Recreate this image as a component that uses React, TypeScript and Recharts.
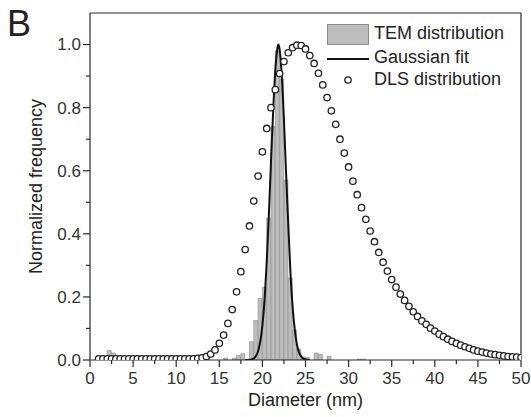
import React from "react";
import { ComposedChart, Bar, Line, Scatter, XAxis, YAxis, ReferenceLine } from "recharts";

const fontFamily = "'Liberation Sans', Arial, sans-serif";
const ink = "#2a2a2a";

// axis ticks (minor ones carry no label)
const xTicks = [0, 2.5, 5, 7.5, 10, 12.5, 15, 17.5, 20, 22.5, 25, 27.5, 30, 32.5, 35, 37.5, 40, 42.5, 45, 47.5, 50];
const xMajor = [0, 5, 10, 15, 20, 25, 30, 35, 40, 45, 50];
const yTicks = [0, 0.1, 0.2, 0.3, 0.4, 0.5, 0.6, 0.7, 0.8, 0.9, 1.0];
const yMajor = [0, 0.2, 0.4, 0.6, 0.8, 1.0];

// TEM histogram (bin centre, normalized count)
const temBins = [2.25, 2.75, 15.75, 16.75, 17.25, 17.75, 18.75, 19.25, 19.75, 20.25, 20.75, 21.25, 21.75, 22.25, 22.75, 23.25, 23.75, 24.25, 24.75, 25.25, 26.25, 26.75, 27.75, 31.25, 31.75];
const temFreq = [0.03, 0.022, 0.006, 0.006, 0.014, 0.02, 0.058, 0.125, 0.195, 0.23, 0.45, 0.74, 0.98, 0.89, 0.57, 0.26, 0.095, 0.035, 0.01, 0.008, 0.022, 0.018, 0.012, 0.003, 0.003];

// Gaussian fit curve
const fitDiameter = [18.0, 18.5, 18.75, 19.0, 19.25, 19.5, 19.75, 20.0, 20.25, 20.5, 20.75, 21.0, 21.25, 21.5, 21.75, 21.85, 22.0, 22.25, 22.5, 22.75, 23.0, 23.25, 23.5, 23.75, 24.0, 24.25, 24.5, 24.75, 25.0, 25.5];
const fitValue = [0, 0.001, 0.002, 0.005, 0.013, 0.028, 0.058, 0.11, 0.19, 0.31, 0.46, 0.63, 0.79, 0.92, 0.99, 1.0, 0.985, 0.9, 0.76, 0.59, 0.43, 0.28, 0.17, 0.097, 0.05, 0.024, 0.011, 0.004, 0.002, 0];

// DLS distribution
const dlsDiameter = [
  1, 1.5, 2, 2.5, 3, 3.5, 4, 4.5, 5, 5.5, 6, 6.5, 7, 7.5, 8, 8.5, 9, 9.5, 10, 10.5, 11, 11.5, 12, 12.5,
  13, 13.5, 14, 14.5, 15, 15.5, 16, 16.5, 17, 17.5, 18, 18.5, 19, 19.5, 20, 20.5, 21, 21.5, 22, 22.5,
  23, 23.5, 24, 24.5, 25, 25.5, 26, 26.5, 27, 27.5, 28, 28.5, 29, 29.5, 30, 30.5, 31, 31.5, 32, 32.5,
  33, 33.5, 34, 34.5, 35, 35.5, 36, 36.5, 37, 37.5, 38, 38.5, 39, 39.5, 40, 40.5, 41, 41.5, 42, 42.5,
  43, 43.5, 44, 44.5, 45, 45.5, 46, 46.5, 47, 47.5, 48, 48.5, 49, 49.5, 50,
];
const dlsValue = [
  0.004, 0.004, 0.004, 0.004, 0.004, 0.004, 0.004, 0.004, 0.004, 0.004, 0.004, 0.004, 0.004, 0.004, 0.004, 0.004, 0.004, 0.004, 0.004, 0.004, 0.004, 0.004, 0.004, 0.005,
  0.007, 0.011, 0.019, 0.032, 0.053, 0.079, 0.116, 0.16, 0.216, 0.28, 0.35, 0.425, 0.504, 0.583, 0.66, 0.734, 0.8, 0.857, 0.908, 0.946,
  0.974, 0.99, 0.998, 0.997, 0.986, 0.965, 0.94, 0.909, 0.872, 0.832, 0.79, 0.747, 0.7, 0.656, 0.612, 0.567, 0.524, 0.483, 0.446, 0.409,
  0.375, 0.341, 0.31, 0.282, 0.255, 0.231, 0.209, 0.189, 0.17, 0.153, 0.138, 0.124, 0.113, 0.101, 0.092, 0.082, 0.074, 0.066, 0.059, 0.053,
  0.047, 0.042, 0.037, 0.032, 0.028, 0.025, 0.022, 0.019, 0.017, 0.015, 0.013, 0.011, 0.01, 0.009, 0.008,
];

const temData = temBins.map((x, i) => ({ x, y: temFreq[i] }));
const fitData = fitDiameter.map((x, i) => ({ x, y: fitValue[i] }));
const dlsData = dlsDiameter.map((x, i) => ({ x, y: dlsValue[i] }));

function XTick(props: any) {
  const { x, y, payload } = props;
  const major = xMajor.includes(payload.value);
  return (
    <g>
      <line x1={x} x2={x} y1={y} y2={y + (major ? 7 : 4)} stroke={ink} strokeWidth={1.2} />
      {major && (
        <text x={x} y={y + 24} textAnchor="middle" fontSize={17} fill="#333" fontFamily={fontFamily}>
          {payload.value}
        </text>
      )}
    </g>
  );
}

function YTick(props: any) {
  const { x, y, payload } = props;
  const major = yMajor.some((v) => Math.abs(v - payload.value) < 1e-6);
  return (
    <g>
      <line x1={x} x2={x - (major ? 7 : 4)} y1={y} y2={y} stroke={ink} strokeWidth={1.2} />
      {major && (
        <text x={x - 9} y={y} dy="0.35em" textAnchor="end" fontSize={17} fill="#333" fontFamily={fontFamily}>
          {payload.value.toFixed(1)}
        </text>
      )}
    </g>
  );
}

const OpenCircle = (p: any) => (
  <circle cx={p.cx} cy={p.cy} r={3.2} fill="#fff" stroke="#222" strokeWidth={1.3} />
);

export default function App() {
  const text = { position: "absolute" as const, fontFamily, fontSize: 18, color: "#222", whiteSpace: "nowrap" as const };
  return (
    <div style={{ position: "absolute", left: 0, top: 0, width: 531, height: 417, background: "#fff" }}>
      <ComposedChart
        width={531}
        height={417}
        data={temData}
        margin={{ top: 13, right: 10, bottom: 0, left: 0 }}
        barCategoryGap={0}
      >
        <XAxis
          dataKey="x"
          type="number"
          domain={[0, 50]}
          ticks={xTicks}
          interval={0}
          tickSize={0}
          tickMargin={0}
          tickLine={false}
          tick={<XTick />}
          height={57}
          axisLine={{ stroke: ink, strokeWidth: 1.2 }}
          allowDataOverflow
          label={{ value: "Diameter (nm)", position: "insideBottom", offset: 11, fontSize: 18, fill: "#222", fontFamily }}
        />
        <XAxis xAxisId="hist" dataKey="x" type="number" domain={[0, 50]} hide allowDataOverflow />
        <YAxis
          type="number"
          domain={[0, 1.1]}
          ticks={yTicks}
          interval={0}
          tickSize={0}
          tickMargin={0}
          tickLine={false}
          tick={<YTick />}
          width={90}
          axisLine={{ stroke: ink, strokeWidth: 1.2 }}
          allowDataOverflow
          label={{
            value: "Normalized frequency",
            angle: -90,
            position: "insideLeft",
            offset: 36,
            fontSize: 18,
            fill: "#222",
            fontFamily,
            style: { textAnchor: "middle" },
          }}
        />
        <ReferenceLine y={1.1} stroke={ink} strokeWidth={1.2} />
        <ReferenceLine x={50} stroke={ink} strokeWidth={1.2} />
        <Bar xAxisId="hist" dataKey="y" fill="#bdbdbd" stroke="#8c8c8c" strokeWidth={0.6} isAnimationActive={false} />
        <Line data={fitData} dataKey="y" type="monotone" stroke="#111" strokeWidth={2} dot={false} isAnimationActive={false} />
        <Scatter data={dlsData} dataKey="y" shape={OpenCircle} isAnimationActive={false} />
      </ComposedChart>

      <div style={{ ...text, left: 7, top: 3, fontSize: 36 }}>B</div>

      <div style={{ position: "absolute", left: 327, top: 24, width: 40, height: 19, background: "#bdbdbd", border: "1px solid #8c8c8c" }} />
      <div style={{ ...text, left: 374, top: 23 }}>TEM distribution</div>
      <div style={{ position: "absolute", left: 327, top: 58, width: 42, height: 2, background: "#111" }} />
      <div style={{ ...text, left: 374, top: 47 }}>Gaussian fit</div>
      <svg style={{ position: "absolute", left: 340, top: 72 }} width={16} height={16}>
        <circle cx={8} cy={8} r={3.2} fill="#fff" stroke="#222" strokeWidth={1.3} />
      </svg>
      <div style={{ ...text, left: 374, top: 69 }}>DLS distribution</div>
    </div>
  );
}
